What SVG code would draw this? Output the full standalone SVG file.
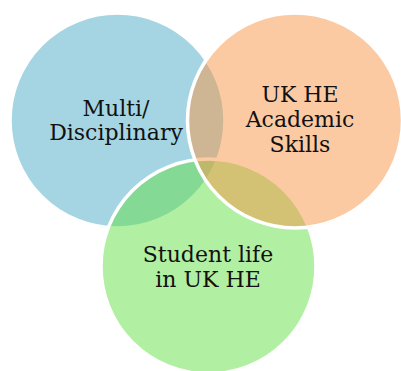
<svg xmlns="http://www.w3.org/2000/svg" width="401" height="371" viewBox="0 0 401 371">
<style>
.c{fill-opacity:0.5;stroke:#ffffff;stroke-width:3.5}
.t{font-family:"DejaVu Serif","Liberation Serif",serif;font-size:22px;fill:#111111;text-anchor:middle}
</style>
<rect width="401" height="371" fill="#ffffff"/>
<g id="node-multi">
<circle class="c" cx="117.5" cy="120.5" r="107.5" fill="#4BACC6"/>
</g>
<g id="node-student">
<circle class="c" cx="208.5" cy="266.5" r="107.5" fill="#63DF45"/>
</g>
<g id="node-academic">
<circle class="c" cx="295" cy="120.5" r="107.5" fill="#F79646"/>
</g>
<g id="labels">
<text class="t" x="116" y="116">Multi/</text>
<text class="t" x="116" y="140">Disciplinary</text>
<text class="t" x="300" y="102">UK HE</text>
<text class="t" x="300" y="127">Academic</text>
<text class="t" x="300" y="152">Skills</text>
<text class="t" x="208" y="262">Student life</text>
<text class="t" x="208" y="287">in UK HE</text>
</g>
<g id="connectors"/>
</svg>
